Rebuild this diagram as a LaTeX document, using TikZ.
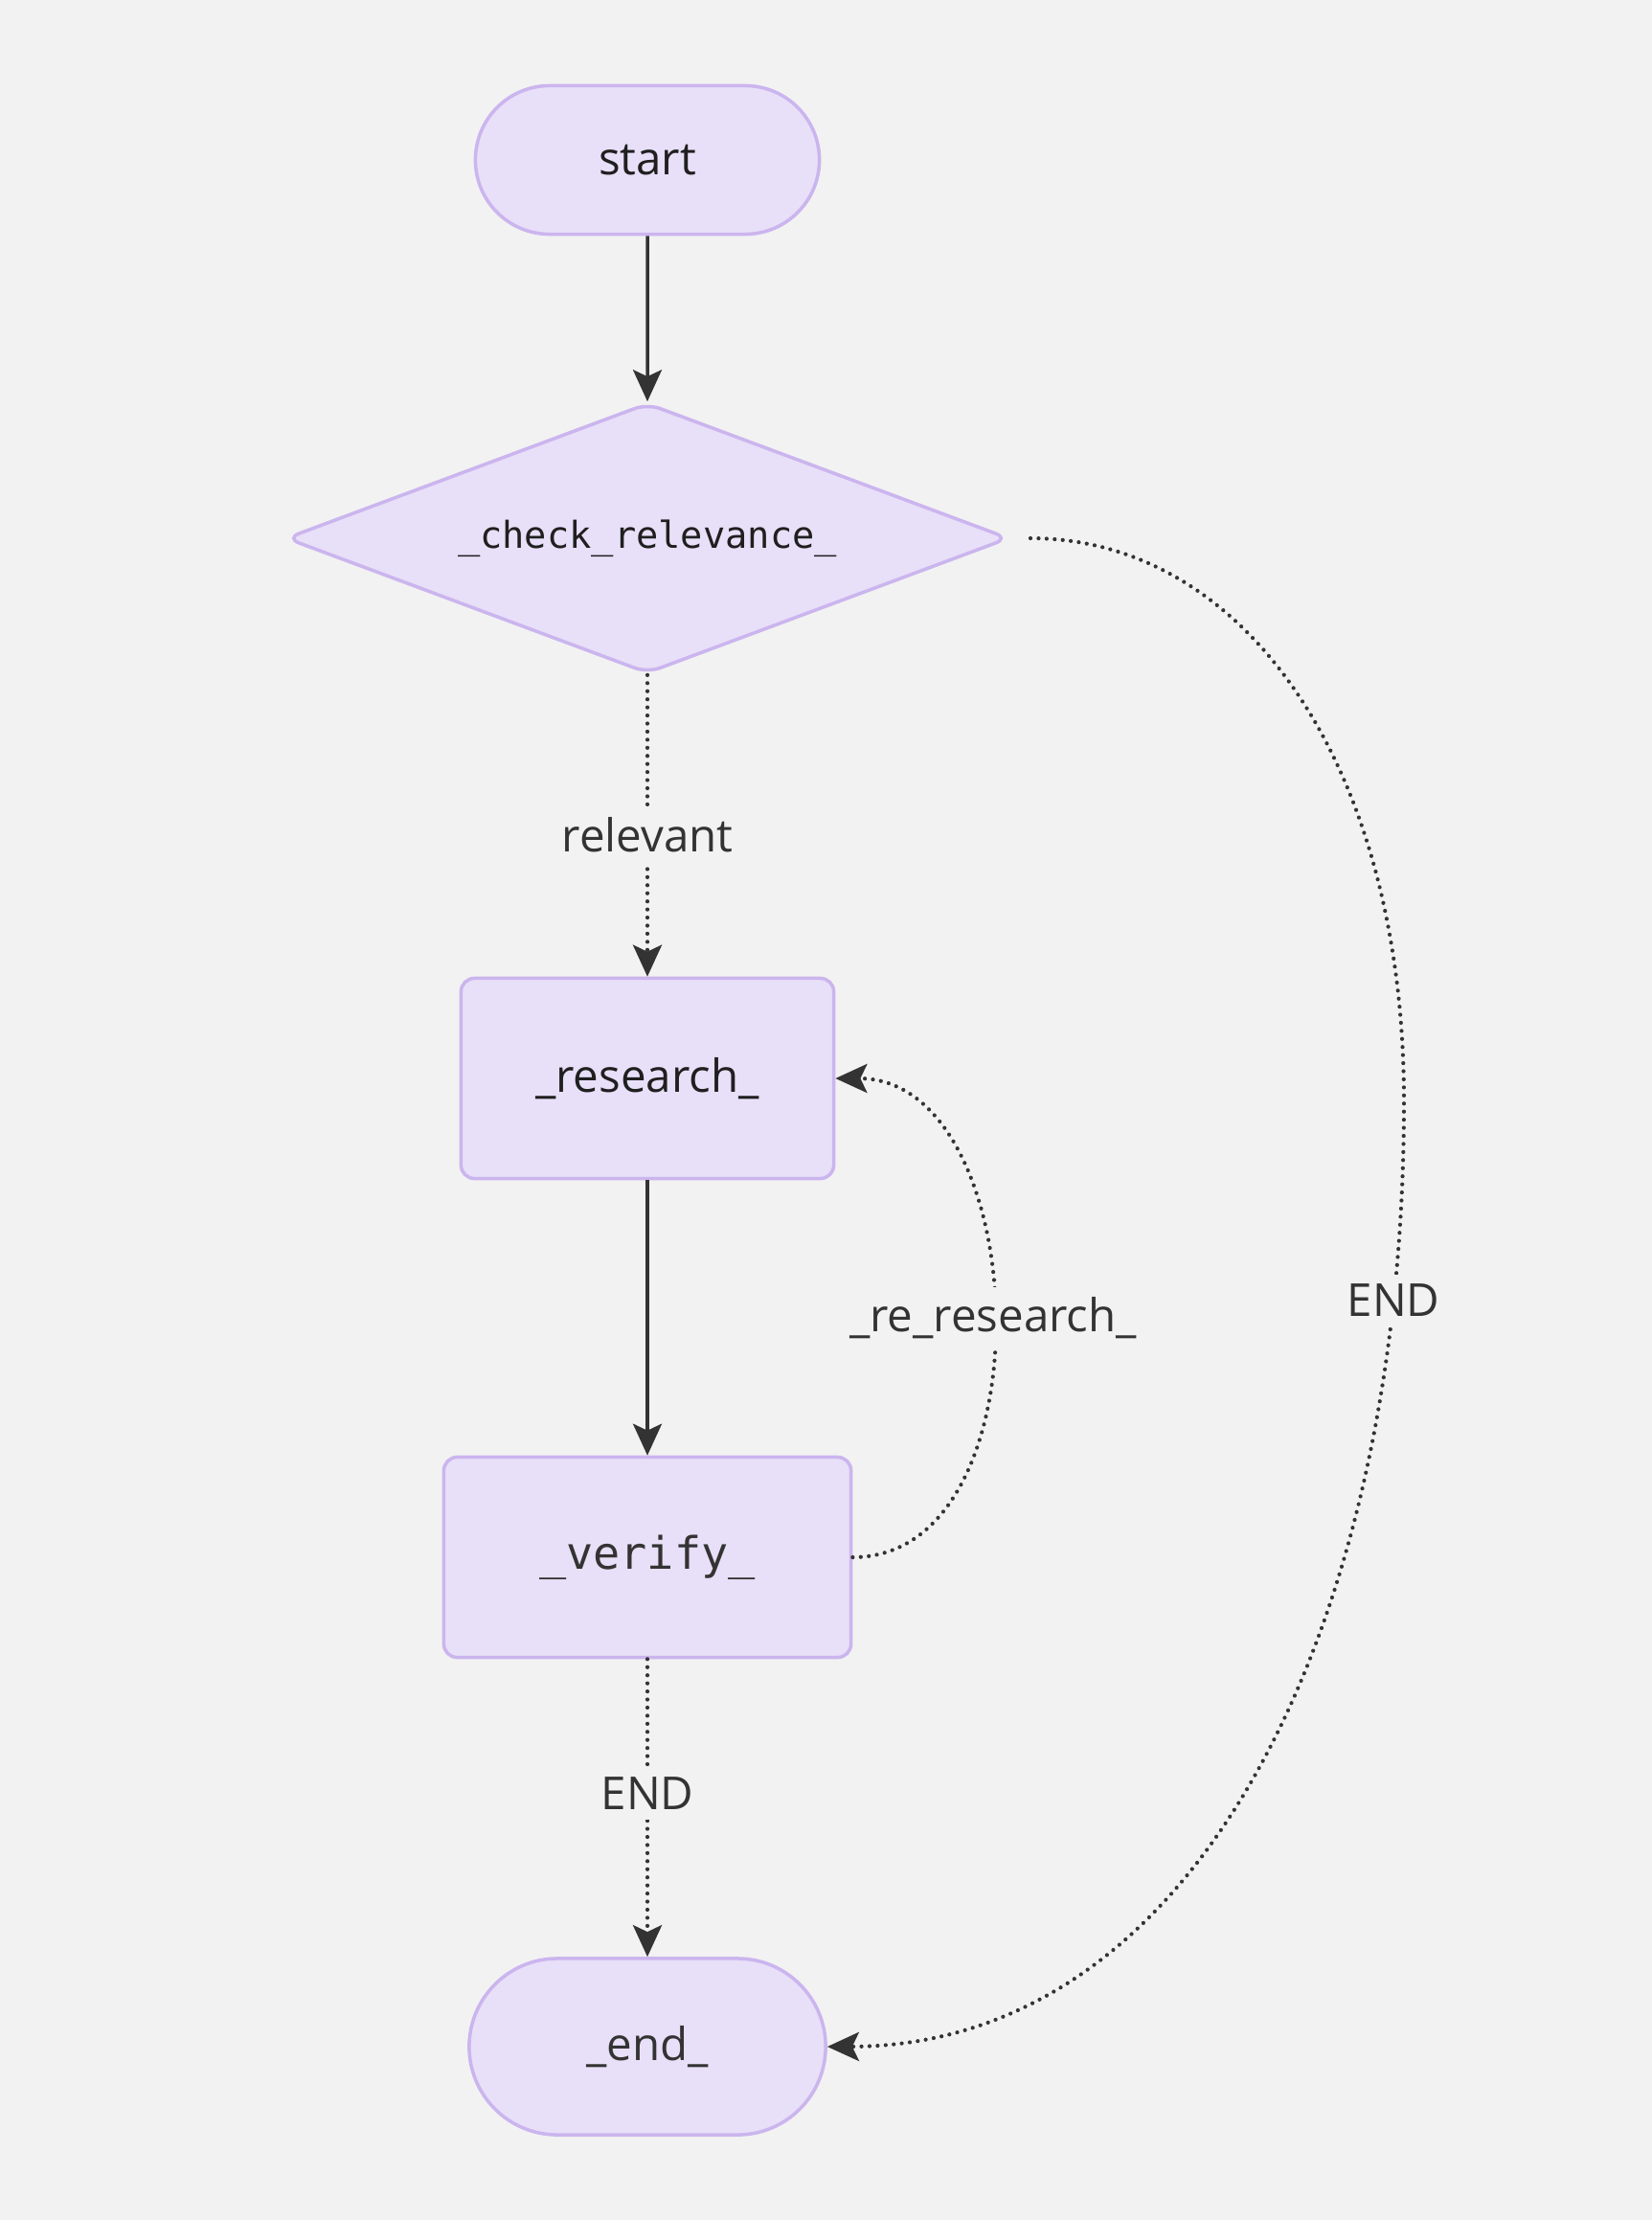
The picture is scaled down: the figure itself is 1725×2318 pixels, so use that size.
\documentclass[tikz,border=0pt]{standalone}
\usepackage{fontspec}
\setmainfont{Open Sans}
\setmonofont{DejaVu Sans Mono}
\usetikzlibrary{shapes.geometric, shapes.misc, arrows.meta}
\definecolor{bg}{HTML}{F2F2F2}
\definecolor{nodefill}{HTML}{E8DFF8}
\definecolor{nodeline}{HTML}{CBB5EE}
\definecolor{ink}{HTML}{333333}
\begin{document}
\begin{tikzpicture}[
        x=0.01cm, y=-0.01cm,
        base/.style={draw=nodeline, fill=nodefill, line width=1pt, text=black!88, inner sep=0pt,
            font=\fontsize{13.5}{16}\selectfont},
        terminal/.style={base, rounded rectangle},
        stepbox/.style={base, rectangle, rounded corners=4pt},
        decision/.style={base, diamond, aspect=2.67, rounded corners=4pt,
            font=\ttfamily\fontsize{11}{13}\selectfont},
        flow/.style={draw=ink, line width=1pt, -{Stealth[length=0.33cm, width=0.3cm, inset=0.07cm]}},
        cond/.style={flow, line width=1.2pt, line cap=round, dash pattern=on 0pt off 2.4pt},
        lbl/.style={fill=bg, text=ink, inner sep=3pt, font=\fontsize{13.5}{16}\selectfont},
    ]
        \fill[bg] (0, 0) rectangle (1725, 2318);
        \useasboundingbox (0, 0) rectangle (1725, 2318);

        \node[terminal, minimum width=3.59cm, minimum height=1.55cm] (start) at (676, 167) {start};
        \node[decision, minimum width=7.55cm, minimum height=2.82cm] (check) at (676, 562) {\_check\_relevance\_};
        \node[stepbox, minimum width=3.89cm, minimum height=2.09cm] (research) at (676, 1126) {\_research\_};
        \node[stepbox, minimum width=4.25cm, minimum height=2.09cm, font=\ttfamily\fontsize{13.3}{16}\selectfont,
            text=ink] (verify) at (676, 1626) {\_verify\_};
        \node[terminal, minimum width=3.72cm, minimum height=1.84cm, text=ink] (end) at (676, 2137) {\_end\_};

        \coordinate (checkout) at (1076, 562);
        \coordinate (farright) at (1466, 1150);

        \draw[flow] (start) -- (check);
        \draw[cond] (check) -- node[lbl, pos=0.53] {relevant} (research);
        \draw[flow] (research) -- (verify);
        \draw[cond] (verify.east) to[out=0, in=0, looseness=1.06]
            node[lbl] {\_re\_research\_} (research.east);
        \draw[cond] (verify) -- node[lbl, pos=0.45] {END} (end);
        \draw[cond] (checkout) .. controls (1300, 562) and (1466, 800) .. (farright)
            .. controls (1466, 1700) and (1250, 2136) .. node[lbl, pos=0.13] {END} (end.east);
    \end{tikzpicture}
\end{document}
